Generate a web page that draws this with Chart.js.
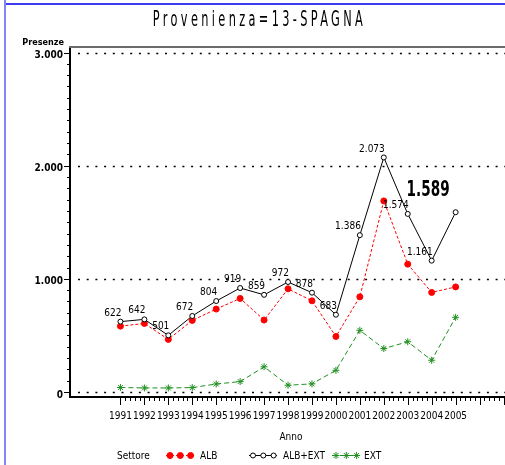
<!DOCTYPE html>
<html>
<head>
<meta charset="utf-8">
<title>Provenienza=13-SPAGNA</title>
<script src="https://cdn.jsdelivr.net/npm/chart.js@4.4.1/dist/chart.umd.min.js"></script>
<style>
  html, body { margin: 0; padding: 0; background: #fff; }
  #wrap { position: relative; width: 505px; height: 465px; overflow: hidden; }
  #chart { position: absolute; left: 0; top: 0; }
  .edge-top { position: absolute; left: 4px; top: 3px; width: 501px; height: 2px; background: #3c3cf0; }
  .edge-left { position: absolute; left: 4px; top: 0; width: 2px; height: 465px; background: #8484f8; }
  #title {
    position: absolute; left: 0; top: 7px; width: 519px; text-align: center;
    font: 21px "Liberation Sans Narrow", "DejaVu Sans Condensed", sans-serif;
    letter-spacing: 5.6px; transform: scaleX(0.6); transform-origin: 50% 50%;
    color: #000; white-space: nowrap;
  }
</style>
</head>
<body>
<div id="wrap">
  <canvas id="chart" width="520" height="465"></canvas>
  <div class="edge-top"></div>
  <div class="edge-left"></div>
  <div id="title">Provenienza=13-SPAGNA</div>
</div>
<script>
// data
const years = [1991, 1992, 1993, 1994, 1995, 1996, 1997, 1998, 1999, 2000, 2001, 2002, 2003, 2004, 2005];
const albExt = [622, 642, 501, 672, 804, 919, 859, 972, 878, 683, 1386, 2073, 1574, 1161, 1589];
const alb = [582, 606, 465, 633, 733, 827, 636, 912, 806, 491, 841, 1689, 1130, 880, 929];
const ext = [40, 36, 36, 39, 71, 92, 223, 60, 72, 192, 545, 384, 444, 281, 660];
const yTicks = [0, 1000, 2000, 3000];

const FONT = '"Liberation Sans Narrow", "DejaVu Sans Condensed", sans-serif';
const RED = '#ff0000';
const GREEN = '#1f8f1f';

// Italian thousands separator
function fmt(v) {
    return String(v).replace(/\B(?=(\d{3})+(?!\d))/g, '.');
}

const series = [
    { label: 'ALB+EXT', values: albExt, color: '#000', dash: [], style: 'circle', radius: 2.5, fill: '#fff' },
    { label: 'ALB', values: alb, color: RED, dash: [3, 2], style: 'circle', radius: 3, fill: RED },
    { label: 'EXT', values: ext, color: GREEN, dash: [5, 3], style: 'star', radius: 3.5, fill: GREEN }
];

const decorations = {
    id: 'decorations',
    beforeDatasetsDraw(chart) {
        const { ctx, chartArea, scales } = chart;
        const x = scales.x, y = scales.y;
        ctx.save();
        // dotted reference lines
        ctx.strokeStyle = '#000';
        ctx.lineWidth = 1.5;
        ctx.setLineDash([2, 6.7]);
        yTicks.forEach(v => {
            const py = Math.round(y.getPixelForValue(v)) + 0.5;
            ctx.beginPath();
            ctx.moveTo(chartArea.left + 8, py);
            ctx.lineTo(chartArea.right, py);
            ctx.stroke();
        });
        ctx.setLineDash([]);
        // top frame
        ctx.strokeStyle = '#6a6a6a';
        ctx.lineWidth = 2;
        ctx.beginPath();
        ctx.moveTo(chartArea.left - 1, chartArea.top);
        ctx.lineTo(chartArea.right, chartArea.top);
        ctx.stroke();
        // y tick marks, every 100
        ctx.strokeStyle = '#000';
        ctx.lineWidth = 1;
        for (let v = 0; v <= 3000; v += 100) {
            const py = Math.round(y.getPixelForValue(v)) + 0.5;
            const len = v % 1000 === 0 ? 5 : 2;
            ctx.beginPath();
            ctx.moveTo(chartArea.left - 1 - len, py);
            ctx.lineTo(chartArea.left - 1, py);
            ctx.stroke();
        }
        // x tick marks, five per year
        for (let i = 0; ; i++) {
            const v = years[0] + i * 0.2;
            const px = Math.round(x.getPixelForValue(v)) + 0.5;
            if (px > chartArea.right) break;
            const len = i % 5 === 0 ? 7 : 3;
            ctx.beginPath();
            ctx.moveTo(px, chartArea.bottom + 1);
            ctx.lineTo(px, chartArea.bottom + 1 + len);
            ctx.stroke();
        }
        ctx.restore();
    },
    afterDatasetsDraw(chart) {
        const { ctx } = chart;
        const meta = chart.getDatasetMeta(0);
        ctx.save();
        ctx.fillStyle = '#000';
        ctx.font = '10px ' + FONT;
        ctx.textAlign = 'right';
        ctx.textBaseline = 'middle';
        meta.data.forEach((pt, i) => {
            if (i === albExt.length - 1) return;
            ctx.fillText(fmt(albExt[i]), pt.x + 1, pt.y - 8.5);
        });
        // last value, highlighted
        const last = meta.data[albExt.length - 1];
        ctx.translate(last.x - 27.5, last.y - 22);
        ctx.scale(0.72, 1);
        ctx.font = 'bold 21px ' + FONT;
        ctx.textAlign = 'center';
        ctx.fillText(fmt(albExt[albExt.length - 1]), 0, 0);
        ctx.restore();
    },
    afterDraw(chart) {
        const { ctx } = chart;
        ctx.save();
        ctx.fillStyle = '#000';
        ctx.textBaseline = 'middle';
        ctx.font = 'bold 9px ' + FONT;
        ctx.textAlign = 'right';
        ctx.fillText('Presenze', 64, 43);
        ctx.font = '10px ' + FONT;
        ctx.textAlign = 'center';
        ctx.fillText('Anno', 291, 437);
        // legend
        ctx.textAlign = 'left';
        ctx.fillText('Settore', 117, 456);
        const slots = [
            { s: series[1], x0: 166, tx: 200 },
            { s: series[0], x0: 249, tx: 283 },
            { s: series[2], x0: 332, tx: 364 }
        ];
        slots.forEach(({ s, x0, tx }) => {
            ctx.strokeStyle = s.color;
            ctx.lineWidth = 1;
            ctx.setLineDash(s.dash);
            ctx.beginPath();
            ctx.moveTo(x0, 455.5);
            ctx.lineTo(x0 + 28, 455.5);
            ctx.stroke();
            ctx.setLineDash([]);
            for (let k = 0; k < 3; k++) {
                ctx.fillStyle = s.fill;
                ctx.strokeStyle = s.color;
                Chart.helpers.drawPoint(ctx, { pointStyle: s.style, radius: s.radius, rotation: 0, borderWidth: 1 }, x0 + 4 + k * 10.3, 455.5);
            }
            ctx.fillStyle = '#000';
            ctx.fillText(s.label, tx, 456);
        });
        ctx.restore();
    }
};

new Chart(document.getElementById('chart').getContext('2d'), {
    type: 'line',
    data: {
        datasets: series.map(s => ({
            label: s.label,
            data: years.map((yr, i) => ({ x: yr, y: s.values[i] })),
            borderColor: s.color,
            borderWidth: 1,
            borderDash: s.dash,
            pointStyle: s.style,
            pointRadius: s.radius,
            pointBorderWidth: 1,
            pointBorderColor: s.color,
            pointBackgroundColor: s.fill,
            tension: 0,
            fill: false
        }))
    },
    options: {
        responsive: false,
        animation: false,
        devicePixelRatio: 1,
        layout: { padding: { top: 47, left: 0, right: 0, bottom: 0 } },
        plugins: {
            legend: { display: false },
            tooltip: { enabled: false }
        },
        scales: {
            x: {
                type: 'linear',
                min: 1988.893,
                max: 2007.48,
                afterBuildTicks: s => { s.ticks = years.map(v => ({ value: v })); },
                afterFit: s => { s.height = 68; },
                grid: { display: false, drawTicks: false },
                border: { display: true, color: '#000', width: 2 },
                ticks: {
                    padding: 13,
                    maxRotation: 0,
                    autoSkip: false,
                    color: '#000',
                    font: { family: FONT, size: 10 },
                    callback: v => String(v)
                }
            },
            y: {
                min: -44,
                max: 3049,
                afterBuildTicks: s => { s.ticks = yTicks.map(v => ({ value: v })); },
                afterFit: s => { s.width = 70; },
                grid: { display: false, drawTicks: false },
                border: { display: true, color: '#000', width: 2 },
                ticks: {
                    padding: 7,
                    labelOffset: 3,
                    color: '#000',
                    font: { family: FONT, size: 10, weight: 'bold' },
                    callback: v => fmt(v)
                }
            }
        }
    },
    plugins: [decorations]
});
</script>
</body>
</html>
